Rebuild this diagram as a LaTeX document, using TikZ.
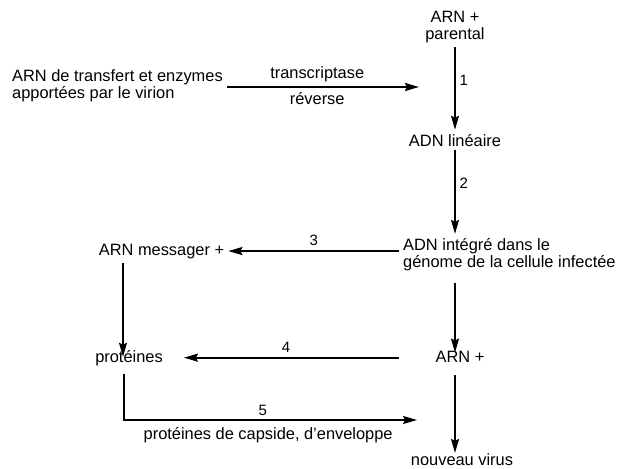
\documentclass[tikz,border=0pt]{standalone}
\usepackage{fontspec}
\setmainfont{Liberation Sans}
\usetikzlibrary{arrows.meta}

\begin{document}
\begin{tikzpicture}[
  x = 1pt, y = -1pt,
  every node/.style = {font=\fontsize{16.4}{17}\selectfont, inner sep=4pt},
  term/.style  = {anchor=base},
  pair/.style  = {align=center},
  lpair/.style = {align=left, anchor=west},
  num/.style   = {font=\fontsize{15}{17}\selectfont},
  arr/.style   = {-{Stealth[length=14pt,width=8pt,inset=2pt]}, line width=1.4pt},
  thk/.style   = {arr, line width=2pt},
]
\useasboundingbox (0,0) rectangle (617,468);
\node[pair]  (arnp) at (455,27.3)  {ARN +\\parental};
\node[lpair] (arnt) at (8,85.3)    {ARN de transfert et enzymes\\apportées par le virion};
\node[term]  (adnl) at (455,146)   {ADN linéaire};
\node[lpair] (adni) at (399,254.3) {ADN intégré dans le\\génome de la cellule infectée};
\node[term]  (arnm) at (161.5,255) {ARN messager +};
\node[term]  (prot) at (129,362)   {protéines};
\node[term]  (arn)  at (460,362)   {ARN +};
\node[term]  (nv)   at (462,465)   {nouveau virus};
\coordinate (rtend)  at (419,87);
\coordinate (capend) at (417,420);
\draw[thk, line width=2.3pt] (arnt.east |- rtend) --
  node[pos=0.47,above]{transcriptase} node[pos=0.47,below]{réverse} (rtend);
\draw[arr] (arnp) -- node[num,right,pos=0.4]{1} (adnl);
\draw[arr] (adnl.south) -- node[num,right,pos=0.39]{2} (adnl.south |- adni.north);
\draw[thk] (adni.west |- arnm.east) -- node[num,above]{3} (arnm.east);
\draw[arr, shorten >=-11pt] ([xshift=-6pt]prot.north |- arnm.south) -- ([xshift=-6pt]prot.north);
\draw[arr, shorten <=8pt, shorten >=-6pt] (adnl.south |- adni.south) -- (adnl.south |- arn.north);
\draw[thk, shorten <=32pt, shorten >=17pt] (prot.east -| arn.west) --
  node[num,above,pos=0.55]{4} (prot.east);
\draw[arr, shorten <=9pt, shorten >=-4pt] (adnl.south |- arn.south) -- (adnl.south |- nv.north);
\draw[arr, shorten <=4pt] ([xshift=-5pt]prot.south) |-
  node[num,above,pos=0.737]{5} node[below=3pt,pos=0.746]{protéines de capside, d\char39 enveloppe} (capend);
\end{tikzpicture}
\end{document}
